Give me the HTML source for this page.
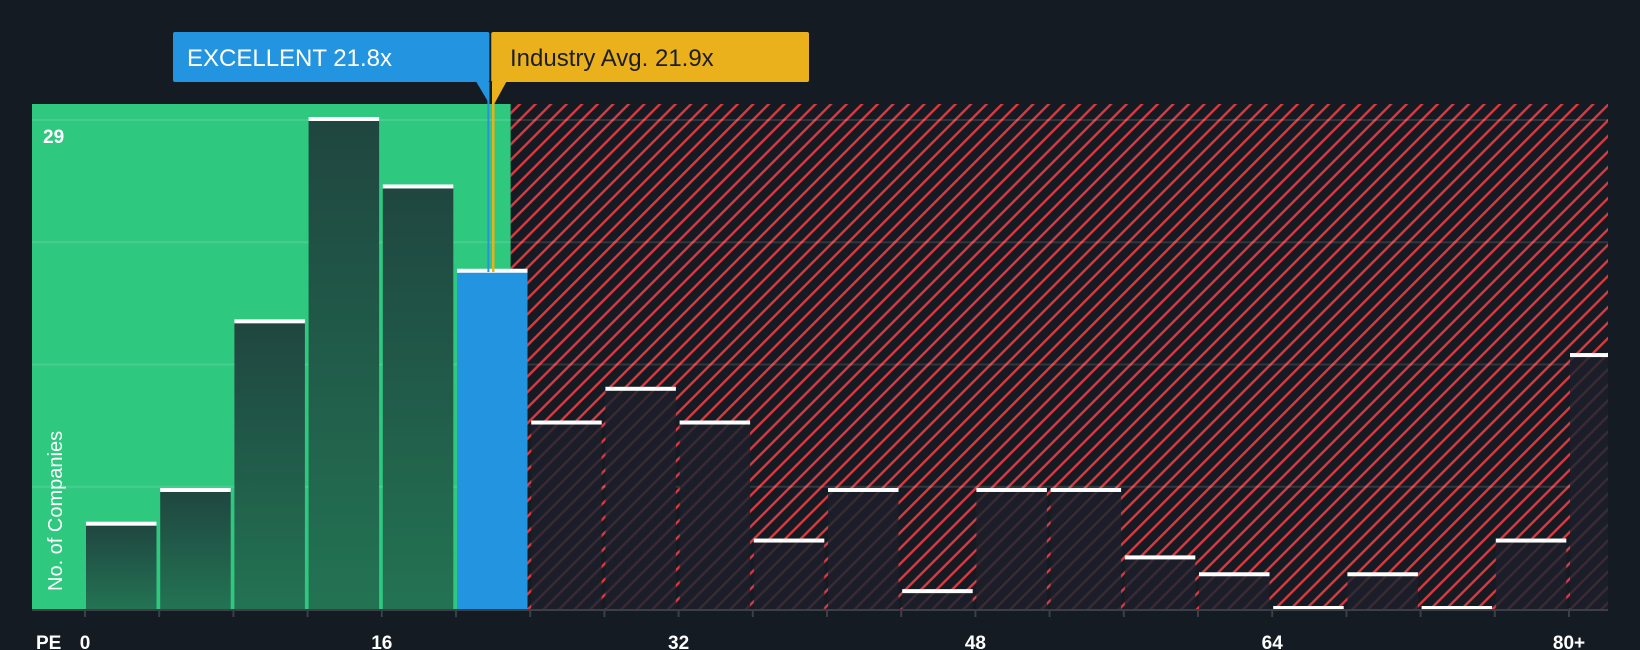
<!DOCTYPE html>
<html><head><meta charset="utf-8"><style>
html,body{margin:0;padding:0;background:#151b23;}
svg{display:block;font-family:"Liberation Sans",sans-serif;}
</style></head><body>
<svg id="chart" width="1640" height="650" viewBox="0 0 1640 650">
<defs>
<pattern id="hatch" patternUnits="userSpaceOnUse" width="11" height="11" patternTransform="rotate(45)">
<rect width="11" height="11" fill="#161b23"/>
<rect x="0" y="0" width="2.4" height="11" fill="#d93a40"/>
</pattern>
<pattern id="hatchDim" patternUnits="userSpaceOnUse" width="11" height="11" patternTransform="rotate(45)">
<rect width="11" height="11" fill="#1b1e28"/>
<rect x="0" y="0" width="2.4" height="11" fill="#3a2a33"/>
</pattern>
<linearGradient id="gbar" x1="0" y1="0" x2="0" y2="1">
<stop offset="0" stop-color="#1f4640"/><stop offset="1" stop-color="#237353"/>
</linearGradient>
</defs>
<g id="plot"></g>
</svg>
<script>
const binStarts = [0,4,8,12,16,20,24,28,32,36,40,44,48,52,56,60,64,68,72,76,80];
const counts = [5,7,17,29,25,20,11,13,11,4,7,1,7,7,3,2,0,2,0,4,15];
const xTickValues = [0,16,32,48,64,80];
const xTickLabels = ["0","16","32","48","64","80+"];
const yMaxLabel = 29;
const companyPE = 21.8;
const industryPE = 21.9;
const fairPE = 21.3;

const NS="http://www.w3.org/2000/svg";
const g=document.getElementById('plot');
const L=32,R=1608,T=104,B=609;
const x0=85,pxPer=74.2/4;
const X=v=>x0+v*pxPer;
const Y=v=>B-v*(B-120)/yMaxLabel;
function mk(tag,attrs,parent){const e=document.createElementNS(NS,tag);for(const k in attrs)e.setAttribute(k,attrs[k]);(parent||g).appendChild(e);return e;}

const splitX=X(fairPE+1.65);
let e;
e=mk('rect',{x:L,y:T,width:splitX-L,height:B-T,fill:'#2ec87f'});


e=mk('rect',{x:splitX,y:T,width:R-splitX,height:B-T,fill:'url(#hatch)'});



// gridlines
[0.25,0.5,0.75,1].forEach(f=>{
  e=mk('line',{x1:L,x2:R,y1:Y(yMaxLabel*f),y2:Y(yMaxLabel*f),stroke:'rgba(255,255,255,0.12)','stroke-width':2});
  
  
});

// bars
binStarts.forEach((s,i)=>{
  const c=counts[i];
  const xl=X(s)+1, w=70.5;
  const xr=Math.min(xl+w,R);
  const inGreen=(s+4)<=companyPE;
  const isCompany=companyPE>=s&&companyPE<s+4;
  const fill=isCompany?'#2394e0':(inGreen?'url(#gbar)':'url(#hatchDim)');
  if(c>0){
    e=mk('rect',{x:xl,y:Y(c),width:xr-xl,height:B-Y(c),fill:fill});
    
    
  }
  e=mk('rect',{x:xl,y:Y(c)-3,width:xr-xl,height:4,fill:'#ffffff'});
  
  
});

// axis
e=mk('line',{x1:L,x2:R,y1:B+1,y2:B+1,stroke:'#3a3f48','stroke-width':2});


binStarts.forEach(s=>{
  e=mk('line',{x1:X(s),x2:X(s),y1:B,y2:B+8,stroke:'#3a3f48','stroke-width':2});
  
  
});
xTickValues.forEach((v,i)=>{
  e=mk('text',{x:X(v),y:649,'text-anchor':'middle',fill:'#fff','font-size':19,'font-weight':'bold'});
  e.textContent=xTickLabels[i];
  
  
});
e=mk('text',{x:36,y:649,fill:'#fff','font-size':19,'font-weight':'bold'});
e.textContent='PE';


e=mk('text',{x:43,y:143,fill:'#fff','font-size':19,'font-weight':'bold'});
e.textContent=String(yMaxLabel);


e=mk('text',{x:0,y:0,fill:'#fff','font-size':20,transform:'translate(62,591) rotate(-90)'});
e.textContent='No. of Companies';



// markers
const cx=X(companyPE)-1, ix=X(industryPE)+1;
e=mk('line',{x1:cx,x2:cx,y1:82,y2:272,stroke:'#2394e0','stroke-width':2});


e=mk('line',{x1:ix+1,x2:ix+1,y1:82,y2:272,stroke:'#ebb11d','stroke-width':2.5});


e=mk('path',{d:`M${cx-12} 82 L${cx+1} 82 L${cx+1} 104 Z`,fill:'#2394e0'});


e=mk('path',{d:`M${ix} 82 L${ix+14} 82 L${ix+2} 104 Z`,fill:'#ebb11d'});


e=mk('rect',{x:173,y:32,width:cx-172,height:50,rx:2,fill:'#2394e0'});


e=mk('text',{x:187,y:66,fill:'#fff','font-size':24});
e.textContent='EXCELLENT '+companyPE+'x';


e=mk('rect',{x:ix-1,y:32,width:810-ix,height:50,rx:2,fill:'#ebb11d'});


e=mk('text',{x:510,y:66,fill:'#1b1e24','font-size':24});
e.textContent='Industry Avg. '+industryPE+'x';


</script>
</body></html>
